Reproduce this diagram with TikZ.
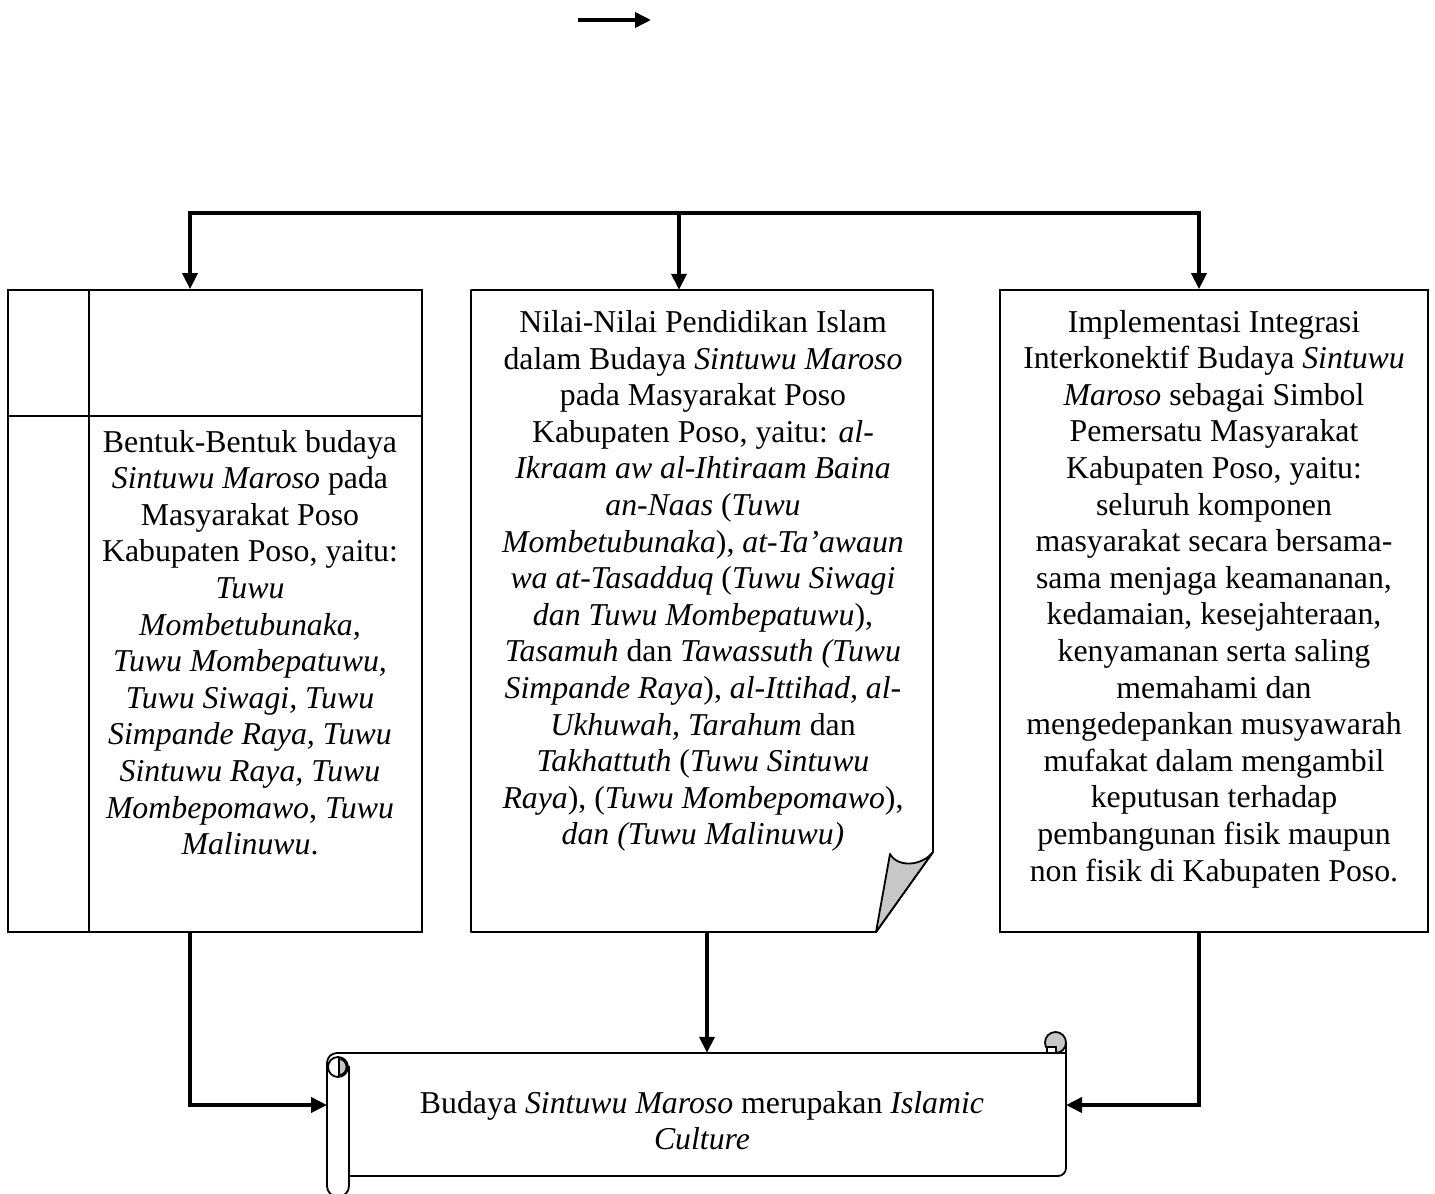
\documentclass[tikz,border=0pt]{standalone}
\usepackage{fontspec}
\setmainfont{Liberation Serif}
\usetikzlibrary{arrows.meta}
\newcommand\fsz{\fontsize{31.8}{36.6}\selectfont}
\begin{document}
\begin{tikzpicture}[x=1pt,y=-1pt,
  bx/.style={draw, line width=1.8pt},
  conn/.style={line width=3.7pt},
  arr/.style={conn, -{Triangle[length=16pt,width=15pt]}},
  txt/.style={align=center, font=\fsz, inner sep=0pt},
  foldfill/.style={fill=black!22}]
\useasboundingbox (0,0) rectangle (1435,1194);
\fill[white] (0,0) rectangle (1435,1194);

% legend arrow
\coordinate (a1) at (578,20);
\coordinate (a2) at (651,20);
\draw[arr] (a1) -- (a2);

% boxes
\node[bx, minimum width=414pt, minimum height=642pt, inner sep=0pt] (L) at (215,611) {};
\node[minimum width=462pt, minimum height=642pt, inner sep=0pt] (M) at (702,611) {};
\node[bx, minimum width=428pt, minimum height=642pt, inner sep=0pt] (R) at (1214,611) {};
\draw[bx] (89,290) -- (89,932);
\draw[bx] (8,416) -- (422,416);

% middle box with folded corner
\draw[bx, line join=round] (471,290) -- (933,290) -- (933,852) -- (876,932) -- (471,932) -- cycle;
\draw[bx, foldfill, line join=round] (890,854) .. controls (898,868) and (922,866) .. (933,852) -- (876,932) -- cycle;

% scroll
\node[minimum width=739pt, minimum height=123pt, inner sep=0pt] (S) at (696.5,1114.5) {};
\draw[bx] (337,1053) -- (1066,1053);
\draw[bx] (349,1176) -- (1058,1176) arc[start angle=-90,end angle=0,radius=8pt] -- (1066,1043);
\draw[bx] (327,1075) -- (327,1063) arc[start angle=180,end angle=90,radius=10pt];
\draw[bx] (327,1075) -- (327,1186) arc[start angle=180,end angle=360,radius=11pt] -- (349,1066);
\draw[bx, fill=white] (338,1067) circle (10);
\draw[bx, foldfill] (339,1059) .. controls (349,1059) and (349,1075) .. (339,1075) -- cycle;
\draw[bx, foldfill] (1055.5,1042.5) circle (10.5);
\draw[bx, fill=white] (1047,1053) -- (1047,1047) -- (1056,1047) -- (1056,1053);
\draw[bx] (1040,1053) -- (1066,1053);

% texts
\node[txt] (tL) at (250,642.5) {Bentuk-Bentuk budaya\\
\textit{Sintuwu Maroso} pada\\
Masyarakat Poso\\
Kabupaten Poso, yaitu:\\
\textit{Tuwu}\\
\textit{Mombetubunaka,}\\
\textit{Tuwu Mombepatuwu,}\\
\textit{Tuwu Siwagi, Tuwu}\\
\textit{Simpande Raya, Tuwu}\\
\textit{Sintuwu Raya, Tuwu}\\
\textit{Mombepomawo}, \textit{Tuwu}\\
\textit{Malinuwu}.};

\node[txt] (tM) at (703,581) {Nilai-Nilai Pendidikan Islam\\
dalam Budaya \textit{Sintuwu Maroso}\\
pada Masyarakat Poso\\
Kabupaten Poso, yaitu: \textit{al-}\\
\textit{Ikraam aw al-Ihtiraam Baina}\\
\textit{an-Naas} (\textit{Tuwu}\\
\textit{Mombetubunaka}), \textit{at-Ta’awaun}\\
\textit{wa at-Tasadduq} (\textit{Tuwu Siwagi}\\
\textit{dan Tuwu Mombepatuwu}),\\
\textit{Tasamuh} dan \textit{Tawassuth (Tuwu}\\
\textit{Simpande Raya}), \textit{al-Ittihad, al-}\\
\textit{Ukhuwah, Tarahum} dan\\
\textit{Takhattuth} (\textit{Tuwu Sintuwu}\\
\textit{Raya}), (\textit{Tuwu Mombepomawo}),\\
\textit{dan (Tuwu Malinuwu)}};

\node[txt] (tR) at (1214,599) {Implementasi Integrasi\\
Interkonektif Budaya \textit{Sintuwu}\\
\textit{Maroso} sebagai Simbol\\
Pemersatu Masyarakat\\
Kabupaten Poso, yaitu:\\
seluruh komponen\\
masyarakat secara bersama-\\
sama menjaga keamananan,\\
kedamaian, kesejahteraan,\\
kenyamanan serta saling\\
memahami dan\\
mengedepankan musyawarah\\
mufakat dalam mengambil\\
keputusan terhadap\\
pembangunan fisik maupun\\
non fisik di Kabupaten Poso.};

\node[txt] (tS) at (702,1120.5) {Budaya \textit{Sintuwu Maroso} merupakan \textit{Islamic}\\
\textit{Culture}};

% connectors
\coordinate (bL) at (190,213);
\coordinate (bM) at (679,213);
\coordinate (bR) at (1199,213);
\draw[conn, line cap=rect] (bL) -- (bR);
\draw[arr] (bL) -- (L.north -| bL);
\draw[arr] (bM) -- (M.north -| bM);
\draw[arr] (bR) -- (R.north -| bR);

\coordinate (sl) at (327,1105);
\coordinate (sr) at (1066,1105);
\coordinate (mx) at (707,932);
\draw[arr] (L.south -| bL) |- (sl);
\draw[arr] (R.south -| bR) |- (sr);
\draw[arr] (mx) -- (S.north -| mx);
\end{tikzpicture}
\end{document}
